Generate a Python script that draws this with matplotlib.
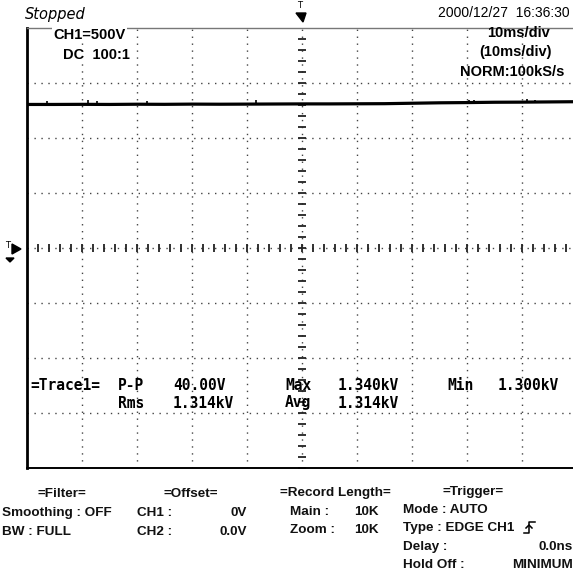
import numpy as np
import matplotlib
matplotlib.use('Agg')
import matplotlib.pyplot as plt

W, H = 573, 572

# trace (time in ms, level in kV)
trace_t = [0, 5, 10, 15, 20, 25, 30, 35, 40, 45, 50, 55, 60, 65, 70, 75, 80, 85, 90, 95, 100]
trace_v = [1.305, 1.305, 1.306, 1.305, 1.307, 1.306, 1.308, 1.307, 1.308, 1.309, 1.310,
           1.310, 1.311, 1.312, 1.316, 1.320, 1.322, 1.325, 1.326, 1.328, 1.330]

# small glitches on the trace
spike_t = [3.6, 11.1, 12.7, 21.8, 41.6, 80.4, 81.3, 90.9, 92.4]
spike_base = [1.305, 1.306, 1.306, 1.306, 1.308, 1.322, 1.322, 1.326, 1.326]
spike_top = [1.335, 1.345, 1.335, 1.340, 1.345, 1.350, 1.345, 1.355, 1.345]

volts_per_div = 0.5   # kV
ms_per_div = 10

meas_row1 = [('=Trace1=', 30), ('P-P', 118), ('40.00V', 173), ('Max', 285),
             ('1.340kV', 338), ('Min', 447), ('1.300kV', 498)]
meas_row2 = [('Rms', 118), ('1.314kV', 173), ('Avg', 285), ('1.314kV', 338)]


def px(x, y):
    return x / W, 1 - y / H


fig = plt.figure(figsize=(W / 100, H / 100), dpi=100)
fig.patch.set_facecolor('white')

left, right, top, bottom = 27, 577, 28, 468
ax = fig.add_axes([left / W, 1 - bottom / H, (right - left) / W, (bottom - top) / H])
ax.set_xlim(0, 10 * ms_per_div)
ax.set_ylim(-4 * volts_per_div, 4 * volts_per_div)
ax.set_xticks([])
ax.set_yticks([])
for name, sp in ax.spines.items():
    sp.set_color('black')
    sp.set_linewidth(1.4)
ax.spines['top'].set_color('#777777')
ax.spines['top'].set_linewidth(1.0)
ax.spines['left'].set_linewidth(2.0)

# dotted graticule
grid_kw = dict(color='#444444', lw=1.0, linestyle=(0, (1, 4)), zorder=1)
for i in range(1, 10):
    ax.axvline(i * ms_per_div, **grid_kw)
for j in range(-3, 4):
    ax.axhline(j * volts_per_div, **grid_kw)

# centre cross with minor tick marks
cx = 5 * ms_per_div
minor_x = np.arange(0, 10 * ms_per_div + 0.01, ms_per_div / 5)
minor_y = np.arange(-4 * volts_per_div, 4 * volts_per_div + 0.001, volts_per_div / 5)
ax.plot(minor_x, np.zeros_like(minor_x), linestyle='none', marker='|', ms=6, mew=1.3,
        color='#222222', zorder=2)
ax.plot(np.full_like(minor_y, cx), minor_y, linestyle='none', marker='_', ms=6, mew=1.3,
        color='#222222', zorder=2)

# the trace
ax.plot(trace_t, trace_v, color='black', lw=2.3, zorder=4)
ax.vlines(spike_t, spike_base, spike_top, color='black', lw=1.2, zorder=4)

# trigger markers outside the screen
fig.patches.append(plt.Polygon([px(296, 13), px(306, 13), px(303, 22)], closed=True,
                               transform=fig.transFigure, color='black'))
fig.text(*px(300, 6), 'T', fontsize=6, ha='center', va='center')
fig.patches.append(plt.Polygon([px(12, 244), px(21, 249), px(12, 254)], closed=True,
                               transform=fig.transFigure, color='black'))
fig.text(*px(8, 246), 'T', fontsize=6, ha='center', va='center')
fig.patches.append(plt.Polygon([px(6, 258), px(14, 258), px(10, 262)], closed=True,
                               transform=fig.transFigure, color='black'))

# header
fig.text(*px(25, 14), 'Stopped', fontsize=10.5, style='italic', family='DejaVu Sans',
         va='center', ha='left')
fig.text(*px(570, 13), '2000/12/27  16:36:30', fontsize=10, family='Liberation Sans',
         va='center', ha='right')

scr = dict(fontsize=10.5, family='Liberation Sans', weight='bold', va='center')
fig.text(*px(53, 35), 'CH1=500V', ha='left',
         bbox=dict(facecolor='white', edgecolor='none', pad=1), **scr)
fig.text(*px(63, 55), 'DC  100:1', ha='left',
         bbox=dict(facecolor='white', edgecolor='none', pad=1), **scr)
fig.text(*px(519, 33), '10ms/div', ha='center', **scr)
fig.text(*px(515, 52), '(10ms/div)', ha='center', **scr)
fig.text(*px(512, 72), 'NORM:100kS/s', ha='center', **scr)

# measurements
mono = dict(fontsize=10.5, family='DejaVu Sans Mono', weight='bold', va='center', ha='left')
for s, x in meas_row1:
    fig.text(*px(x, 385), s, **mono)
for s, x in meas_row2:
    fig.text(*px(x, 403), s, **mono)

# settings panel below the screen
pan = dict(fontsize=9.7, family='Liberation Sans', weight='bold', va='center', color='#111111')
fig.text(*px(38, 494), '=Filter=', ha='left', **pan)
fig.text(*px(2, 513), 'Smoothing : OFF', ha='left', **pan)
fig.text(*px(2, 532), 'BW : FULL', ha='left', **pan)

fig.text(*px(163, 494), '=Offset=', ha='left', **pan)
fig.text(*px(137, 513), 'CH1 :', ha='left', **pan)
fig.text(*px(247, 513), '0V', ha='right', **pan)
fig.text(*px(137, 532), 'CH2 :', ha='left', **pan)
fig.text(*px(247, 532), '0.0V', ha='right', **pan)

fig.text(*px(280, 493), '=Record Length=', ha='left', **pan)
fig.text(*px(290, 512), 'Main :', ha='left', **pan)
fig.text(*px(379, 512), '10K', ha='right', **pan)
fig.text(*px(290, 530), 'Zoom :', ha='left', **pan)
fig.text(*px(379, 530), '10K', ha='right', **pan)

fig.text(*px(443, 492), '=Trigger=', ha='left', **pan)
fig.text(*px(403, 510), 'Mode : AUTO', ha='left', **pan)
fig.text(*px(403, 528), 'Type : EDGE CH1', ha='left', **pan)
fig.text(*px(403, 547), 'Delay :', ha='left', **pan)
fig.text(*px(573, 547), '0.0ns', ha='right', **pan)
fig.text(*px(403, 565), 'Hold Off :', ha='left', **pan)
fig.text(*px(573, 565), 'MINIMUM', ha='right', **pan)

# rising-edge glyph
ex = [px(524, 533), px(529, 533), px(529, 522), px(535, 522)]
fig.lines.append(plt.Line2D([p[0] for p in ex], [p[1] for p in ex], transform=fig.transFigure,
                            color='black', lw=1.1))
ar = [px(526, 528), px(529, 525), px(532, 528)]
fig.lines.append(plt.Line2D([p[0] for p in ar], [p[1] for p in ar],
                            transform=fig.transFigure, color='black', lw=1.1))

fig.savefig('out.png', dpi=100)
